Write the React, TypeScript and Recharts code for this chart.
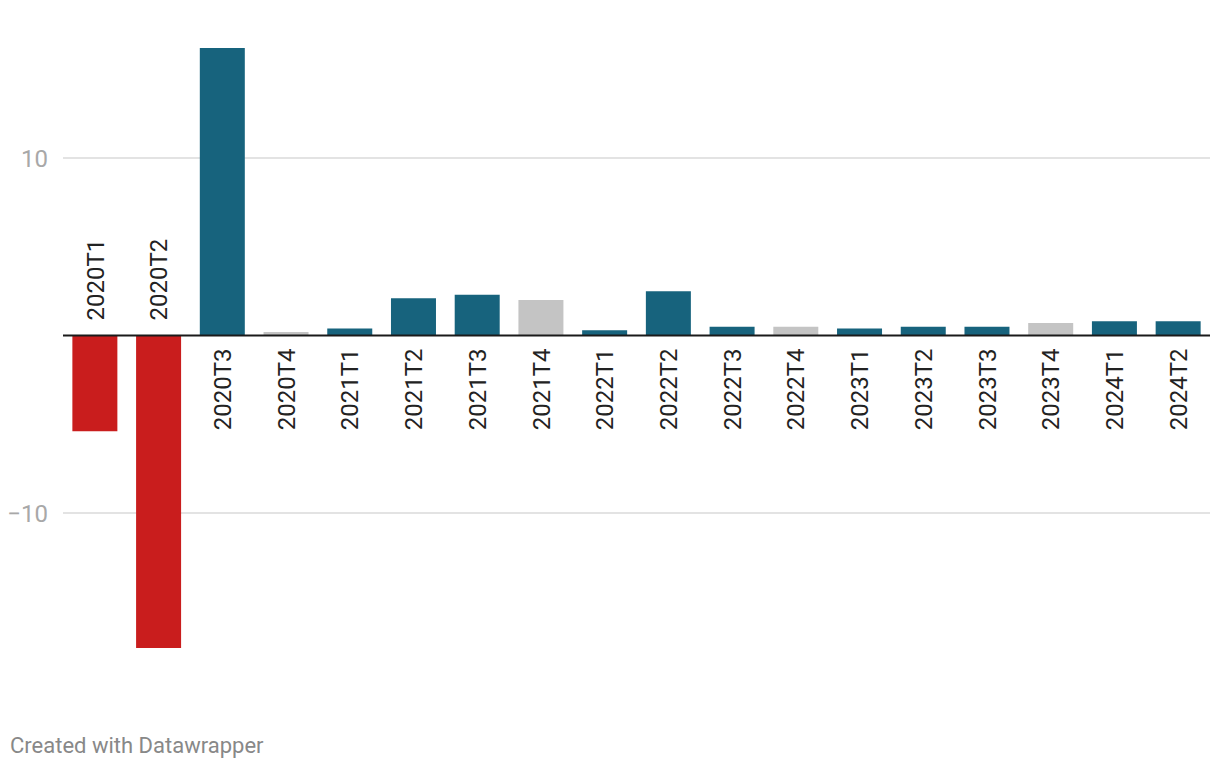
import { BarChart, Bar, XAxis, YAxis, CartesianGrid, ReferenceLine, Cell, LabelList } from 'recharts';

const quarters = [
  '2020T1', '2020T2', '2020T3', '2020T4',
  '2021T1', '2021T2', '2021T3', '2021T4',
  '2022T1', '2022T2', '2022T3', '2022T4',
  '2023T1', '2023T2', '2023T3', '2023T4',
  '2024T1', '2024T2',
];
const growth = [-5.4, -17.6, 16.2, 0.2, 0.4, 2.1, 2.3, 2.0, 0.3, 2.5, 0.5, 0.5, 0.4, 0.5, 0.5, 0.7, 0.8, 0.8];
const yTicks = [-10, 10];

const TEAL = '#17637d';
const RED = '#c91d1d';
const GREY = '#c4c4c4';
const FONT = 'Roboto, sans-serif';

const data = quarters.map((q, i) => ({ quarter: q, value: growth[i] }));

const barColor = (q: string, v: number) => (v < 0 ? RED : q.endsWith('T4') ? GREY : TEAL);

const QuarterLabel = (props: any) => {
  const { x, y, width, height, value } = props;
  const i = quarters.indexOf(value);
  const negative = growth[i] < 0;
  const cx = x + width / 2;
  // zero line sits at the top of negative bars, at the bottom of positive ones
  const zeroY = negative ? Math.min(y, y + height) : Math.max(y, y + height);
  const ty = negative ? zeroY - 15 : zeroY + 13;
  return (
    <text
      transform={`translate(${cx},${ty}) rotate(-90)`}
      textAnchor={negative ? 'start' : 'end'}
      dy="0.36em"
      fontFamily={FONT}
      fontSize={24}
      fill="#222"
    >
      {value}
    </text>
  );
};

export default function App() {
  return (
    <div style={{ position: 'absolute', left: 0, top: 0, width: 1220, height: 768, background: '#fff', fontFamily: FONT }}>
      <BarChart
        width={1220}
        height={720}
        data={data}
        margin={{ top: 16, right: 10, bottom: 29.5, left: 0 }}
        barCategoryGap="14.7%"
      >
        <CartesianGrid vertical={false} horizontalValues={yTicks} stroke="#e3e3e3" strokeWidth={2} />
        <XAxis dataKey="quarter" hide />
        <YAxis
          domain={[-20, 18]}
          ticks={yTicks}
          width={63}
          axisLine={false}
          tickLine={false}
          tickSize={0}
          tickMargin={15}
          tickFormatter={(v: number) => (v < 0 ? `\u2212${Math.abs(v)}` : `${v}`)}
          tick={{ fill: '#a8a8a8', fontSize: 24, fontFamily: FONT }}
        />
        <Bar dataKey="value" isAnimationActive={false}>
          {data.map((d) => (
            <Cell key={d.quarter} fill={barColor(d.quarter, d.value)} />
          ))}
          <LabelList dataKey="quarter" content={QuarterLabel} />
        </Bar>
        <ReferenceLine y={0} stroke="#1a1a1a" strokeWidth={2} />
      </BarChart>
      <div style={{ position: 'absolute', left: 10, top: 733, fontSize: 22, color: '#888' }}>
        Created with Datawrapper
      </div>
    </div>
  );
}
